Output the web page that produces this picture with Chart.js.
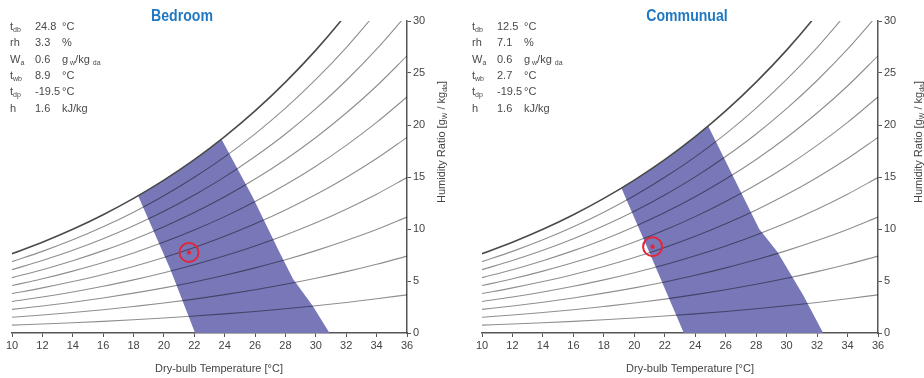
<!DOCTYPE html>
<html>
<head>
<meta charset="utf-8">
<script src="https://cdn.jsdelivr.net/npm/chart.js@4.4.1/dist/chart.umd.min.js"></script>
<style>
  html, body { margin: 0; padding: 0; background: #fff; }
  .wrap { display: flex; width: 924px; height: 378px; }
  canvas { display: block; }
</style>
</head>
<body>
<div class="wrap">
  <canvas id="bedroomChart" width="462" height="378"></canvas>
  <canvas id="communualChart" width="462" height="378"></canvas>
</div>
<script>
// dry-bulb temperature for the rh curves [°C]
var temps = [10, 12, 14, 16, 18, 20, 22, 24, 26, 28, 30, 32, 34, 36];
// humidity ratio [g/kg] along each relative humidity curve
var rh10 = [0.76, 0.86, 0.98, 1.12, 1.27, 1.44, 1.63, 1.84, 2.07, 2.33, 2.62, 2.94, 3.29, 3.67];
var rh20 = [1.51, 1.73, 1.97, 2.24, 2.55, 2.88, 3.26, 3.69, 4.16, 4.68, 5.26, 5.90, 6.61, 7.39];
var rh30 = [2.27, 2.59, 2.96, 3.37, 3.83, 4.34, 4.91, 5.55, 6.26, 7.04, 7.92, 8.89, 9.96, 11.15];
var rh40 = [3.03, 3.46, 3.95, 4.50, 5.11, 5.80, 6.56, 7.42, 8.37, 9.43, 10.60, 11.91, 13.35, 14.95];
var rh50 = [3.79, 4.34, 4.95, 5.63, 6.40, 7.26, 8.23, 9.30, 10.50, 11.83, 13.31, 14.96, 16.78, 18.81];
var rh60 = [4.56, 5.21, 5.95, 6.77, 7.70, 8.74, 9.90, 11.19, 12.64, 14.25, 16.04, 18.04, 20.25, 22.70];
var rh70 = [5.32, 6.09, 6.95, 7.92, 9.00, 10.22, 11.58, 13.10, 14.80, 16.69, 18.80, 21.15, 23.75, 26.65];
var rh80 = [6.09, 6.97, 7.95, 9.06, 10.31, 11.70, 13.27, 15.01, 16.97, 19.14, 21.57, 24.28, 27.29, 30.64];
var rh90 = [6.86, 7.85, 8.96, 10.21, 11.62, 13.20, 14.97, 16.94, 19.15, 21.62, 24.38, 27.45, 30.88, 34.69];
var rh100 = [7.63, 8.73, 9.97, 11.37, 12.94, 14.70, 16.67, 18.88, 21.35, 24.12, 27.20, 30.65, 34.49, 38.78];

// comfort zones (outline, dry-bulb / humidity ratio)
var bedroomZoneT = [18.3, 20, 22, 23.8, 25.8, 27.6, 28.5, 29.8, 30.9, 22.05, 20.4, 18.3];
var bedroomZoneW = [13.2, 14.7, 16.67, 18.6, 13.2, 7.8, 5.2, 2.6, 0, 0, 6.2, 13.2];
var communualZoneT = [19.15, 20, 22, 24, 24.85, 28.2, 29.4, 31.1, 32.4, 23.25, 20.8, 19.15];
var communualZoneW = [13.95, 14.7, 16.67, 18.88, 19.9, 10.0, 7.8, 3.6, 0, 0, 8.4, 13.95];

// measured state point
var bedroomPoint = [21.65, 7.75];
var communualPoint = [21.2, 8.3];

// info block
var infoSymbols = [["t", "db"], ["rh", ""], ["W", "a"], ["t", "wb"], ["t", "dp"], ["h", ""]];
var bedroomInfo = ["24.8", "3.3", "0.6", "8.9", "-19.5", "1.6"];
var communualInfo = ["12.5", "7.1", "0.6", "2.7", "-19.5", "1.6"];
var infoUnits = [[["°C", 0]], [["%", 0]], [["g", 0], [" w", 1], ["/kg ", 0], ["da", 1]], [["°C", 0]], [["°C", 0]], [["kJ/kg", 0]]];

var xTicks = [10, 36, 2];
var yTicks = [0, 30, 5];

Chart.defaults.font.family = "'Liberation Sans', Arial, sans-serif";
Chart.defaults.font.size = 11;
Chart.defaults.color = "#444";

function curvePoints(values) {
  return temps.map(function (t, i) { return { x: t, y: values[i] }; });
}

function zonePoints(ts, ws) {
  return ts.map(function (t, i) { return { x: t, y: ws[i] }; });
}

// text with subscripts: parts = [[text, isSub], ...]
function drawRich(ctx, parts, x, y, size) {
  var subSize = Math.round(size * 0.68);
  parts.forEach(function (p) {
    ctx.font = (p[1] ? subSize : size) + "px 'Liberation Sans', Arial, sans-serif";
    ctx.fillText(p[0], x, p[1] ? y + 3 : y);
    x += ctx.measureText(p[0]).width;
  });
  return x;
}

function richWidth(ctx, parts, size) {
  var subSize = Math.round(size * 0.68);
  var w = 0;
  parts.forEach(function (p) {
    ctx.font = (p[1] ? subSize : size) + "px 'Liberation Sans', Arial, sans-serif";
    w += ctx.measureText(p[0]).width;
  });
  return w;
}

// rh curves are multiplied onto the zone so they show darker inside it
var multiplyPlugin = {
  id: "multiplyCurves",
  beforeDatasetDraw: function (chart, args) {
    if (chart.data.datasets[args.index].multiply) chart.ctx.globalCompositeOperation = "multiply";
  },
  afterDatasetDraw: function (chart) {
    chart.ctx.globalCompositeOperation = "source-over";
  }
};

var textPlugin = {
  id: "psychroText",
  afterDraw: function (chart) {
    var o = chart.options.plugins.psychroText;
    var ctx = chart.ctx;
    ctx.save();
    ctx.textBaseline = "middle";
    ctx.textAlign = "left";

    // title (squeezed to look like a narrow bold face)
    ctx.save();
    ctx.fillStyle = "#1f78c1";
    ctx.font = "bold 16px 'Liberation Sans', Arial, sans-serif";
    ctx.textAlign = "center";
    ctx.translate(o.titleX, 17);
    ctx.scale(0.88, 1);
    ctx.fillText(o.title, 0, 0);
    ctx.restore();

    // info block
    ctx.fillStyle = "#4a4a4a";
    for (var i = 0; i < infoSymbols.length; i++) {
      var y = 27 + i * 16.3;
      drawRich(ctx, [[infoSymbols[i][0], 0], [infoSymbols[i][1], 1]], 10, y, 11);
      ctx.font = "11px 'Liberation Sans', Arial, sans-serif";
      ctx.fillText(o.info[i], 35, y);
      drawRich(ctx, infoUnits[i], 62, y, 11);
    }

    // x axis title
    ctx.fillStyle = "#444";
    ctx.font = "11px 'Liberation Sans', Arial, sans-serif";
    ctx.textAlign = "center";
    ctx.fillText("Dry-bulb Temperature [°C]", o.xTitleX, 369);
    ctx.textAlign = "left";

    // y axis title, reading upwards
    var yParts = [["Humidity Ratio [g", 0], ["W", 1], [" / kg", 0], ["da", 1], ["]", 0]];
    var w = richWidth(ctx, yParts, 11);
    ctx.translate(o.yTitleX, 142);
    ctx.rotate(-Math.PI / 2);
    drawRich(ctx, yParts, -w / 2, 0, 11);
    ctx.restore();
  }
};

function makeChart(id, cfg) {
  var curves = [rh10, rh20, rh30, rh40, rh50, rh60, rh70, rh80, rh90].map(function (vals) {
    return {
      data: curvePoints(vals), borderColor: "#8e8e8e", borderWidth: 1.1, multiply: true,
      pointRadius: 0, cubicInterpolationMode: "monotone", fill: false, order: 2
    };
  });
  var datasets = [
    {
      data: [{ x: cfg.point[0], y: cfg.point[1] }], showLine: false, order: 0,
      pointRadius: 2.2, pointBackgroundColor: "#e0283a", pointBorderWidth: 0
    },
    {
      data: [{ x: cfg.point[0], y: cfg.point[1] }], showLine: false, order: 0,
      pointRadius: 9.5, pointBackgroundColor: "rgba(0,0,0,0)",
      pointBorderColor: "#e0283a", pointBorderWidth: 2
    },
    {
      data: zonePoints(cfg.zoneT, cfg.zoneW), order: 3, tension: 0,
      borderColor: "rgba(0,0,0,0)", borderWidth: 1, pointRadius: 0,
      backgroundColor: "#7878b9", fill: "shape"
    },
    {
      data: curvePoints(rh100), borderColor: "#4a4a4a", borderWidth: 1.6,
      pointRadius: 0, cubicInterpolationMode: "monotone", fill: false, order: 1
    }
  ].concat(curves);

  var axisCommon = {
    type: "linear",
    grid: { drawOnChartArea: false, drawTicks: true, tickLength: 4, color: "#555", lineWidth: 1 },
    border: { color: "#555", width: 1.5 }
  };

  return new Chart(document.getElementById(id), {
    type: "line",
    data: { datasets: datasets },
    plugins: [multiplyPlugin, textPlugin],
    options: {
      responsive: false,
      animation: false,
      layout: { padding: { left: cfg.left, top: 21, right: 0, bottom: 0 } },
      plugins: {
        legend: { display: false },
        tooltip: { enabled: false },
        psychroText: cfg.text
      },
      scales: {
        x: Object.assign({}, axisCommon, {
          position: "bottom", min: xTicks[0], max: xTicks[1],
          ticks: { stepSize: xTicks[2], padding: 2, maxRotation: 0, autoSkip: false, color: "#444" },
          afterFit: function (s) { s.height = 45; }
        }),
        y: Object.assign({}, axisCommon, {
          position: "right", min: yTicks[0], max: yTicks[1],
          ticks: { stepSize: yTicks[2], padding: 2, color: "#444" },
          afterFit: function (s) { s.width = cfg.yWidth; }
        })
      }
    }
  });
}

makeChart("bedroomChart", {
  zoneT: bedroomZoneT, zoneW: bedroomZoneW, point: bedroomPoint,
  left: 12, yWidth: 55,
  text: { title: "Bedroom", titleX: 182, info: bedroomInfo, xTitleX: 219, yTitleX: 442 }
});

makeChart("communualChart", {
  zoneT: communualZoneT, zoneW: communualZoneW, point: communualPoint,
  left: 20, yWidth: 46,
  text: { title: "Communual", titleX: 225, info: communualInfo, xTitleX: 228, yTitleX: 457 }
});
</script>
</body>
</html>
